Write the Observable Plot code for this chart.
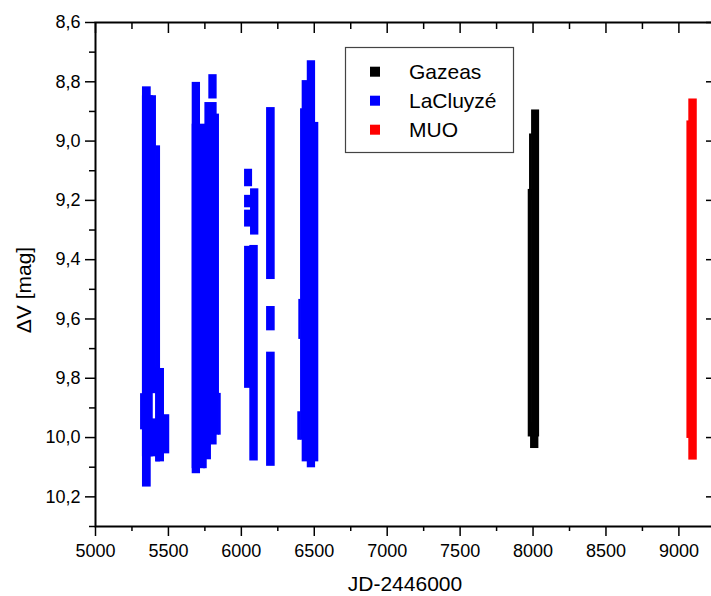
<!DOCTYPE html>
<html>
<head>
<meta charset="utf-8">
<script src="https://cdn.jsdelivr.net/npm/d3@7"></script>
<script src="https://cdn.jsdelivr.net/npm/@observablehq/plot@0.6"></script>
<style>
  html, body { margin: 0; padding: 0; background: #fff; overflow: hidden; width: 711px; height: 596px; }
  #chart { width: 730px; height: 596px; }
  #chart svg { display: block; }
</style>
</head>
<body>
<div id="chart"></div>
<script>
// ---- Series ----
const seriesNames = ["Gazeas", "LaCluyzé", "MUO"];
const seriesColors = ["#000000", "#0000ff", "#ff0000"];

// ---- LaCluyzé observation blocks (JD-2446000 start/end, ΔV bright/faint) ----
const lacJdStart   = [5322, 5322, 5322, 5322, 5413, 5413, 5460, 5309,
                      5663, 5663, 5750, 5740, 5760, 5777, 5825, 5845,
                      6022, 6022, 6022, 6063, 6022, 6058,
                      6173, 6173, 6173,
                      6452, 6417, 6406, 6500, 6387, 6394];
const lacJdEnd     = [5382, 5418, 5396, 5418, 5446, 5473, 5509, 5330,
                      5720, 5755, 5834, 5766, 5795, 5834, 5850, 5862,
                      6077, 6070, 6070, 6120, 6065, 6116,
                      6232, 6232, 6232,
                      6509, 6460, 6425, 6531, 6410, 6410];
const lacMagBright = [8.817, 8.847, 8.847, 9.937, 9.016, 9.767, 9.923, 9.852,
                      8.802, 8.943, 8.870, 9.000, 9.000, 8.776, 8.909, 9.851,
                      9.095, 9.183, 9.233, 9.161, 9.355, 9.352,
                      8.887, 9.558, 9.712,
                      8.729, 8.796, 8.891, 8.937, 9.913, 9.534];
const lacMagFaint  = [10.167, 9.852, 10.065, 10.065, 10.082, 10.082, 10.055, 9.974,
                      10.122, 10.105, 10.025, 10.105, 10.075, 8.858, 9.992, 9.992,
                      9.154, 9.225, 9.290, 9.317, 9.834, 10.079,
                      9.467, 9.640, 10.097,
                      10.102, 10.082, 10.009, 10.082, 10.009, 9.669];

// ---- Gazeas ----
const gazJdStart   = [7990, 7983, 7967, 7976];
const gazJdEnd     = [8045, 8040, 7995, 7995];
const gazMagBright = [8.895, 9.950, 9.163, 8.976];
const gazMagFaint  = [9.998, 10.037, 9.998, 9.200];

// ---- MUO ----
const muoJdStart   = [9068, 9055];
const muoJdEnd     = [9126, 9075];
const muoMagBright = [8.858, 8.932];
const muoMagFaint  = [10.076, 10.003];

// ---- Axes ----
const xMajor = [5000, 5500, 6000, 6500, 7000, 7500, 8000, 8500, 9000];
const xMinor = [5250, 5750, 6250, 6750, 7250, 7750, 8250, 8750, 9250];
const yMajor = [8.6, 8.8, 9.0, 9.2, 9.4, 9.6, 9.8, 10.0, 10.2];
const yMinor = [8.7, 8.9, 9.1, 9.3, 9.5, 9.7, 9.9, 10.1, 10.3];
const xTitle = "JD-2446000";
const yTitle = "ΔV [mag]";

function toRows(name, s, e, b, f) {
  return s.map((v, i) => ({series: name, x1: v, x2: e[i], y1: b[i], y2: f[i]}));
}
const rows = [
  ...toRows("LaCluyzé", lacJdStart, lacJdEnd, lacMagBright, lacMagFaint),
  ...toRows("Gazeas", gazJdStart, gazJdEnd, gazMagBright, gazMagFaint),
  ...toRows("MUO", muoJdStart, muoJdEnd, muoMagBright, muoMagFaint)
];

const font = "'Liberation Sans', Arial, Helvetica, sans-serif";

const chart = Plot.plot({
  width: 730,
  height: 596,
  marginLeft: 95,
  marginRight: 15,
  marginTop: 22,
  marginBottom: 70,
  style: {fontFamily: font, fontSize: "18px", color: "black", background: "white", maxWidth: "none"},
  x: {domain: [5000, 9251], label: null},
  y: {domain: [8.6, 10.3], reverse: true, label: null},
  color: {domain: seriesNames, range: seriesColors},
  marks: [
    Plot.rect(rows, {x1: "x1", x2: "x2", y1: "y1", y2: "y2", fill: "series", inset: 0}),
    Plot.frame({stroke: "black", strokeWidth: 2}),
    // bottom
    Plot.axisX(xMajor, {anchor: "bottom", tickSize: 10, tickPadding: 8, strokeWidth: 1.5, fontSize: 18, tickFormat: d => String(d), label: null}),
    Plot.axisX(xMinor, {anchor: "bottom", tickSize: 5, strokeWidth: 1.5, fill: "none", label: null}),
    // top (inward)
    Plot.axisX(xMajor, {anchor: "top", tickSize: 10, insetTop: 10, strokeWidth: 1.5, fill: "none", label: null}),
    Plot.axisX(xMinor, {anchor: "top", tickSize: 6, insetTop: 6, strokeWidth: 1.5, fill: "none", label: null}),
    // left
    Plot.axisY(yMajor, {anchor: "left", tickSize: 10, tickPadding: 5, strokeWidth: 1.5, fontSize: 18, tickFormat: d => d.toFixed(1).replace(".", ","), label: null}),
    Plot.axisY(yMinor, {anchor: "left", tickSize: 6, strokeWidth: 1.5, fill: "none", label: null}),
    // right (inward)
    Plot.axisY(yMajor, {anchor: "right", tickSize: 10, insetRight: 10, strokeWidth: 1.5, fill: "none", label: null}),
    Plot.axisY(yMinor, {anchor: "right", tickSize: 5, insetRight: 5, strokeWidth: 1.5, fill: "none", label: null})
  ]
});

const svg = d3.select(chart);

// ---- Axis titles ----
svg.append("text")
  .attr("x", 405).attr("y", 591)
  .attr("text-anchor", "middle").attr("font-family", font).attr("font-size", 21).attr("fill", "black")
  .text(xTitle);
svg.append("text")
  .attr("transform", "translate(31,290) rotate(-90)")
  .attr("text-anchor", "middle").attr("font-family", font).attr("font-size", 21).attr("fill", "black")
  .text(yTitle);

// ---- Legend ----
const lg = svg.append("g").attr("font-family", font).attr("font-size", 21).attr("text-anchor", "start");
lg.append("rect")
  .attr("x", 345.5).attr("y", 47.5).attr("width", 168).attr("height", 105)
  .attr("fill", "white").attr("stroke", "#444").attr("stroke-width", 1.2);
seriesNames.forEach((name, i) => {
  const cy = 71.7 + i * 29;
  lg.append("rect").attr("x", 370).attr("y", cy - 5).attr("width", 10).attr("height", 10).attr("fill", seriesColors[i]);
  lg.append("text").attr("x", 409).attr("y", cy).attr("dy", "0.35em").attr("fill", "black").text(name);
});

document.getElementById("chart").appendChild(chart);
</script>
</body>
</html>
